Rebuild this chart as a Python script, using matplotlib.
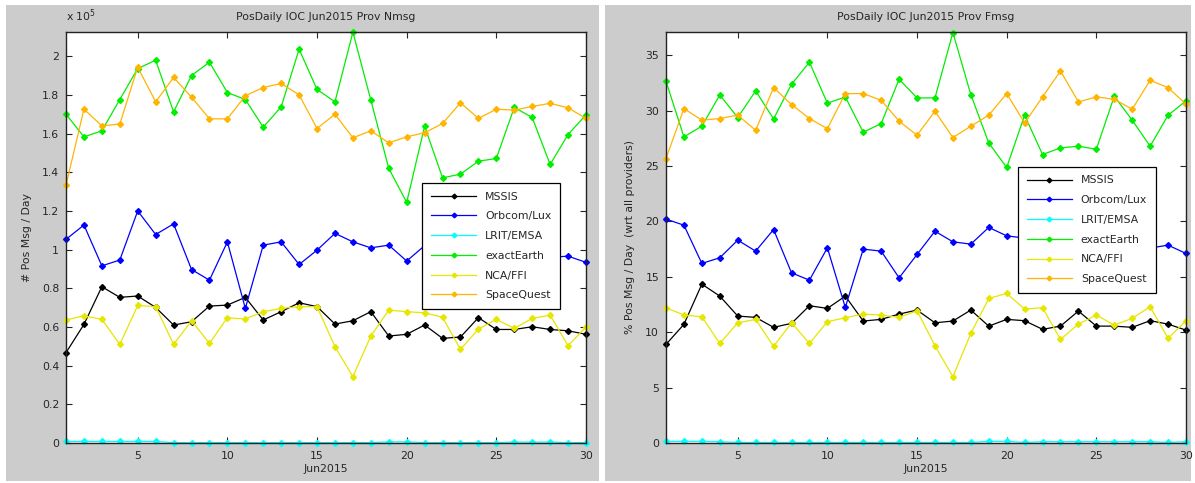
import numpy as np
import matplotlib
matplotlib.use("Agg")
import matplotlib.pyplot as plt
from matplotlib.patches import Rectangle

plt.rcParams["font.family"] = ["DejaVu Sans"]

days = np.arange(1, 31)
providers = ["MSSIS", "Orbcom/Lux", "LRIT/EMSA", "exactEarth", "NCA/FFI", "SpaceQuest"]
colors = ["#000000", "#0000ff", "#00ffff", "#00ee00", "#e6e600", "#ffb400"]

# daily position message counts (x 1e5)
nmsg_mssis = [0.467, 0.613, 0.808, 0.753, 0.760, 0.701, 0.610, 0.627, 0.708, 0.713,
              0.753, 0.636, 0.679, 0.725, 0.705, 0.615, 0.632, 0.679, 0.553, 0.562,
              0.610, 0.541, 0.548, 0.648, 0.587, 0.587, 0.601, 0.587, 0.580, 0.562]
nmsg_orbcom = [1.053, 1.127, 0.916, 0.946, 1.200, 1.078, 1.133, 0.897, 0.842, 1.040,
               0.696, 1.023, 1.040, 0.923, 0.997, 1.084, 1.040, 1.009, 1.023, 0.941,
               1.020, 0.980, 1.000, 1.040, 0.990, 1.010, 1.000, 0.960, 0.966, 0.934]
nmsg_lrit = [0.008, 0.008, 0.008, 0.008, 0.008, 0.008, 0.002, 0.002, 0.002, 0.002,
             0.002, 0.002, 0.002, 0.002, 0.002, 0.002, 0.002, 0.002, 0.006, 0.006,
             0.002, 0.002, 0.002, 0.002, 0.002, 0.005, 0.005, 0.005, 0.002, 0.002]
nmsg_exact = [1.700, 1.583, 1.614, 1.776, 1.936, 1.979, 1.712, 1.900, 1.969, 1.812,
              1.776, 1.633, 1.738, 2.036, 1.828, 1.764, 2.124, 1.773, 1.420, 1.244,
              1.638, 1.371, 1.390, 1.457, 1.471, 1.735, 1.683, 1.440, 1.595, 1.697]
nmsg_nca = [0.636, 0.658, 0.639, 0.510, 0.711, 0.705, 0.510, 0.632, 0.515, 0.648,
            0.641, 0.679, 0.696, 0.705, 0.705, 0.498, 0.343, 0.553, 0.687, 0.679,
            0.673, 0.650, 0.484, 0.589, 0.639, 0.593, 0.644, 0.661, 0.503, 0.601]
nmsg_spacequest = [1.333, 1.726, 1.640, 1.649, 1.943, 1.764, 1.890, 1.788, 1.676, 1.676,
                   1.795, 1.838, 1.859, 1.800, 1.626, 1.700, 1.578, 1.614, 1.552, 1.583,
                   1.604, 1.652, 1.759, 1.678, 1.726, 1.721, 1.740, 1.756, 1.733, 1.678]

# share of all providers (%)
fmsg_mssis = [8.90, 10.71, 14.34, 13.26, 11.46, 11.34, 10.44, 10.80, 12.39, 12.15,
              13.26, 11.01, 11.16, 11.64, 12.00, 10.85, 11.01, 12.00, 10.55, 11.16,
              11.04, 10.26, 10.55, 11.91, 10.55, 10.55, 10.44, 11.04, 10.73, 10.19]
fmsg_orbcom = [20.21, 19.66, 16.21, 16.72, 18.31, 17.32, 19.27, 15.36, 14.70, 17.62,
               12.24, 17.50, 17.32, 14.91, 17.02, 19.12, 18.16, 17.95, 19.46, 18.70,
               18.50, 18.00, 18.40, 19.00, 18.20, 18.60, 18.30, 17.60, 17.86, 17.11]
fmsg_lrit = [0.15, 0.15, 0.15, 0.12, 0.05, 0.05, 0.05, 0.05, 0.05, 0.05,
             0.05, 0.05, 0.05, 0.05, 0.05, 0.05, 0.05, 0.05, 0.15, 0.15,
             0.05, 0.12, 0.12, 0.12, 0.12, 0.12, 0.12, 0.12, 0.05, 0.12]
fmsg_exact = [32.65, 27.63, 28.60, 31.42, 29.38, 31.78, 29.26, 32.38, 34.37, 30.67,
              31.24, 28.05, 28.84, 32.83, 31.15, 31.15, 37.05, 31.45, 27.09, 24.87,
              29.59, 26.04, 26.64, 26.79, 26.52, 31.30, 29.14, 26.79, 29.59, 30.88]
fmsg_nca = [12.21, 11.55, 11.40, 8.99, 10.85, 11.16, 8.72, 10.85, 8.99, 10.95,
            11.31, 11.64, 11.55, 11.34, 11.94, 8.78, 5.98, 9.89, 13.05, 13.50,
            12.09, 12.21, 9.35, 10.73, 11.55, 10.64, 11.25, 12.30, 9.44, 11.04]
fmsg_spacequest = [25.68, 30.19, 29.14, 29.29, 29.59, 28.23, 32.08, 30.55, 29.29, 28.38,
                   31.54, 31.54, 30.94, 29.05, 27.78, 29.95, 27.57, 28.60, 29.59, 31.54,
                   28.89, 31.24, 33.58, 30.79, 31.24, 31.03, 30.13, 32.74, 32.08, 30.58]

nmsg = [nmsg_mssis, nmsg_orbcom, nmsg_lrit, nmsg_exact, nmsg_nca, nmsg_spacequest]
fmsg = [fmsg_mssis, fmsg_orbcom, fmsg_lrit, fmsg_exact, fmsg_nca, fmsg_spacequest]

W, H = 1195, 483
FS = 7.8
TXT = "#262626"
fig = plt.figure(figsize=(W / 100, H / 100), dpi=100, facecolor="white")

# gray window backgrounds
for x0, x1 in [(6, 599), (605, 1191)]:
    fig.patches.append(Rectangle((x0 / W, 2 / H), (x1 - x0) / W, (478 - 2) / H,
                                 transform=fig.transFigure, facecolor="#cccccc",
                                 edgecolor="none", zorder=-5))


def px_axes(x0, x1, y0, y1):
    return fig.add_axes([x0 / W, (H - y1) / H, (x1 - x0) / W, (y1 - y0) / H])


def draw_panel(ax, series, ylim, yticks, ylabel, title, leg_anchor):
    for vals, name, col in zip(series, providers, colors):
        ax.plot(days, vals, "-", color=col, lw=0.9, marker="D", ms=3.0,
                mec=col, mfc=col, label=name, clip_on=False)
    ax.set_xlim(1, 30)
    ax.set_ylim(*ylim)
    ax.set_xticks([5, 10, 15, 20, 25, 30])
    ax.set_yticks(yticks)
    ax.tick_params(direction="in", length=4, width=0.8, top=True, right=True,
                   labelsize=FS, colors=TXT)
    ax.tick_params(axis="x", pad=6)
    ax.tick_params(axis="y", pad=5)
    for s in ax.spines.values():
        s.set_linewidth(1.0)
        s.set_color("#222222")
    ax.set_xlabel("Jun2015", fontsize=FS, color=TXT, labelpad=2)
    ax.set_ylabel(ylabel, fontsize=FS, color=TXT, labelpad=7)
    ax.set_title(title, fontsize=FS, color=TXT, pad=9)
    leg = ax.legend(loc="upper left", bbox_to_anchor=leg_anchor, fontsize=FS,
                    frameon=True, fancybox=False, framealpha=1, edgecolor="black",
                    handlelength=4.2, handletextpad=0.8, labelspacing=0.9,
                    borderpad=0.8, borderaxespad=0, markerscale=0.8)
    leg.get_frame().set_linewidth(0.9)
    leg.set_zorder(10)
    for t in leg.get_texts():
        t.set_color(TXT)


ax1 = px_axes(66, 586, 32, 443)
draw_panel(ax1, nmsg, (0, 2.125), np.arange(0, 2.01, 0.2),
           "# Pos Msg / Day", "PosDaily IOC Jun2015 Prov Nmsg", (0.685, 0.633))
ax1.set_yticklabels(["0", "0.2", "0.4", "0.6", "0.8", "1", "1.2", "1.4", "1.6", "1.8", "2"])
ax1.text(0.0, 1.02, r"x 10$^5$", transform=ax1.transAxes, fontsize=FS,
         color=TXT, ha="left", va="bottom")

ax2 = px_axes(666, 1186, 32, 443)
draw_panel(ax2, fmsg, (0, 37.1), [0, 5, 10, 15, 20, 25, 30, 35],
           "% Pos Msg / Day  (wrt all providers)", "PosDaily IOC Jun2015 Prov Fmsg",
           (0.677, 0.672))

fig.savefig("out.png", dpi=100, facecolor="white")
